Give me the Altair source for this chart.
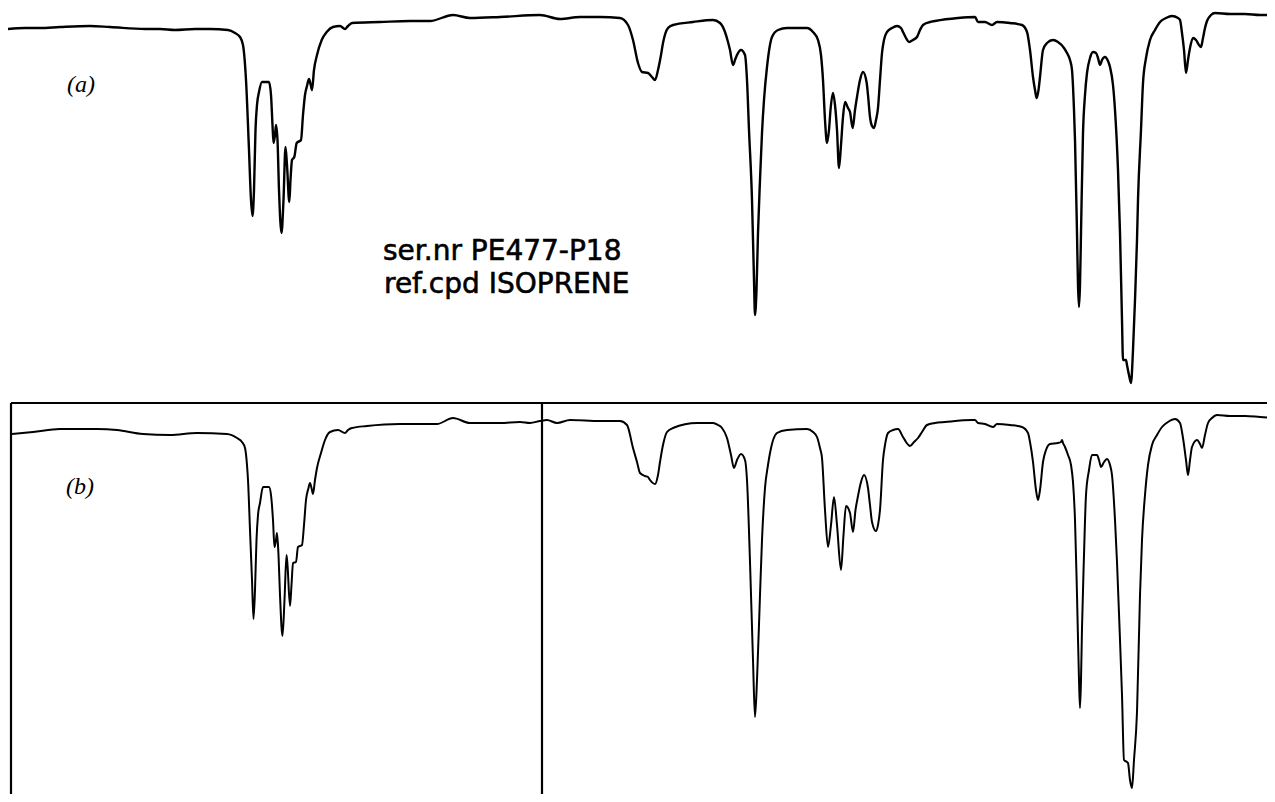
import altair as alt
import pandas as pd

# Spectrum (a): readings (position along chart, pen deflection in chart units, larger = deeper)
a_x = [8, 25, 40, 60, 90, 110, 145, 160, 175, 195, 210, 228, 235, 240, 243, 246, 249, 251, 252.5, 254,
       255.5, 257, 259, 262, 266, 269, 271, 272.5, 273.5, 275, 276, 277.5, 279, 281.5, 283.5, 285.5, 287, 289.3, 290.5, 292,
       294.3, 296.7, 301, 303, 305, 307, 309, 310.5, 312, 314, 317, 321.7, 326.7, 333, 340, 345, 348, 352, 380, 410,
       430, 453, 470, 500, 540, 560, 580, 600, 620, 628, 633, 638, 642, 648, 652, 655, 658, 661, 663, 668,
       673, 693, 713, 720, 725, 728, 730, 733, 735, 737, 741, 745, 747, 749, 752, 754, 755, 756.5, 758, 760,
       762, 764, 767, 772, 778, 787, 807, 813, 818, 821, 823, 825, 827, 829, 830.5, 833, 835, 837, 839, 841,
       843, 845, 848, 850, 852.7, 855, 857, 860, 863, 866.7, 868, 870, 872, 874, 876, 878, 880, 882, 884, 887,
       892, 897, 901, 903, 906, 909, 913, 917, 920, 923, 930, 935, 958, 975, 978, 985, 992, 997, 1010, 1022,
       1027, 1030, 1033, 1035, 1036.7, 1038.5, 1040, 1043, 1047, 1053, 1058, 1064, 1067, 1070, 1072, 1074, 1075, 1077, 1078, 1079,
       1080, 1081, 1083, 1085, 1087, 1090, 1093, 1096, 1098, 1100, 1102, 1105, 1108, 1110, 1113, 1115, 1118, 1120, 1122, 1123,
       1126, 1127, 1129, 1131, 1133, 1135, 1137, 1138, 1141, 1143, 1146, 1150, 1155, 1160, 1166, 1172, 1178, 1180, 1182, 1184,
       1186, 1188, 1190, 1193, 1196, 1199, 1201, 1203, 1205, 1207, 1211, 1215, 1230, 1245, 1260, 1275]
a_y = [29, 28, 28, 27, 26, 27, 29, 29, 30, 29, 29, 30, 33, 37, 45, 80, 150, 200, 216, 190,
       130, 105, 92, 82, 82, 82, 95, 125, 143, 135, 125, 140, 190, 233, 200, 147, 165, 202, 180, 160,
       157, 143, 140, 115, 95, 86, 79, 84, 90, 70, 55, 40, 32, 27, 26, 29, 26, 23, 22, 21,
       21, 15, 18, 17, 15, 19, 17, 17, 18, 25, 40, 63, 72, 73, 77, 80, 70, 55, 43, 28,
       25, 22, 20, 23, 32, 42, 50, 65, 60, 55, 50, 55, 80, 130, 200, 280, 315, 290, 233, 180,
       133, 100, 67, 37, 30, 28, 28, 32, 40, 55, 80, 120, 143, 130, 110, 93, 105, 130, 168, 145,
       117, 102, 108, 112, 128, 110, 97, 80, 72, 83, 95, 117, 126, 128, 120, 108, 80, 53, 40, 32,
       28, 26, 28, 32, 38, 42, 40, 37, 30, 25, 22, 21, 18, 17, 22, 22, 25, 22, 23, 25,
       32, 50, 77, 90, 98, 90, 77, 50, 43, 40, 42, 48, 53, 60, 70, 110, 140, 233, 285, 307,
       285, 233, 133, 95, 73, 58, 52, 53, 58, 65, 60, 57, 61, 67, 85, 110, 170, 233, 320, 360,
       360, 365, 375, 383, 350, 300, 240, 200, 130, 83, 58, 40, 30, 22, 18, 16, 18, 20, 33, 50,
       73, 60, 48, 38, 40, 45, 47, 38, 28, 21, 15, 13, 14, 14, 15, 15]

# Spectrum (b)
b_x = [12, 33, 60, 97, 117, 143, 170, 197, 227, 237, 242, 245, 247, 248, 250, 252, 253.5, 255, 256.5, 258,
       260, 263, 266, 269, 271, 273, 274.5, 276, 277, 278.5, 280, 282.5, 284.5, 286.5, 287.5, 290, 291.5, 293, 296, 298,
       302, 304, 306, 308.5, 310, 311.5, 313, 315, 317, 321, 325, 330, 338, 345, 348, 352, 367, 400, 420, 437,
       453, 470, 500, 520, 530, 540, 547, 557, 570, 600, 620, 627, 633, 637, 640, 645, 648, 650, 655, 658,
       660, 663, 667, 673, 697, 713, 718, 722, 727, 731, 734, 737, 741, 745, 747, 750, 753, 755, 757, 760,
       762, 765, 768, 770, 777, 787, 807, 813, 817, 820, 822, 825, 828, 831, 834, 837, 841, 843.5, 846, 850,
       853, 855.5, 858, 861, 864, 868, 870, 872, 876, 878, 880, 883, 885, 888, 893, 898, 903, 906, 910, 914,
       918, 922, 927, 935, 945, 972, 975, 978, 985, 993, 997, 1010, 1022, 1028, 1030, 1033, 1036, 1038, 1040, 1043,
       1046, 1050, 1058, 1061, 1062, 1063, 1065, 1068, 1071, 1073, 1075, 1077, 1079, 1080, 1081, 1082, 1084, 1086, 1089, 1092,
       1097, 1099, 1101, 1104, 1107, 1110, 1112, 1115, 1117, 1120, 1122, 1124, 1127, 1128, 1130, 1132, 1134, 1137, 1140, 1142,
       1145, 1148, 1152, 1157, 1162, 1168, 1175, 1180, 1183, 1186, 1188, 1190, 1192, 1197, 1200, 1202, 1205, 1208, 1212, 1217,
       1230, 1245, 1260, 1275]
b_y = [434, 432, 429, 429, 430, 434, 435, 433, 434, 438, 442, 448, 465, 480, 530, 580, 619, 590, 540, 515,
       503, 487, 487, 487, 495, 520, 547, 540, 533, 555, 595, 636, 600, 555, 565, 606, 585, 563, 562, 547,
       545, 525, 500, 488, 483, 488, 494, 480, 468, 453, 440, 432, 430, 433, 430, 428, 426, 424, 424, 424,
       418, 423, 423, 422, 423, 421, 420, 423, 420, 421, 421, 425, 448, 462, 473, 476, 477, 480, 484, 475,
       462, 445, 432, 428, 423, 423, 425, 428, 438, 455, 468, 460, 454, 460, 480, 562, 660, 717, 680, 595,
       540, 488, 465, 453, 433, 430, 429, 432, 437, 448, 458, 510, 547, 525, 497, 525, 570, 535, 506, 513,
       532, 510, 496, 482, 475, 488, 505, 522, 531, 525, 510, 460, 445, 433, 430, 429, 437, 442, 446, 442,
       438, 432, 425, 423, 422, 420, 420, 423, 424, 427, 424, 425, 427, 433, 442, 462, 490, 500, 490, 462,
       450, 444, 443, 442, 440, 443, 447, 455, 465, 482, 520, 595, 680, 708, 680, 628, 555, 495, 470, 455,
       455, 460, 467, 462, 459, 465, 475, 520, 562, 640, 695, 760, 762, 763, 780, 788, 760, 712, 595, 540,
       495, 465, 445, 435, 427, 422, 419, 423, 438, 460, 475, 460, 447, 440, 444, 448, 435, 423, 418, 415,
       416, 416, 417, 418]

# Frame of panel (b)
frame_h_x = [11]
frame_h_x2 = [1275]
frame_h_y = [403]
frame_v_x = [11, 542]
frame_v_y = [403, 403]
frame_v_y2 = [802, 802]

# Labels
panel_labels = ["(a)", "(b)"]
panel_label_x = [67, 66]
panel_label_y = [85, 487]
note_lines = ["ser.nr PE477-P18", "ref.cpd ISOPRENE"]
note_x = [383, 384]
note_y = [260, 293]

xs = alt.Scale(domain=[8, 1267], nice=False, zero=False)
ys = alt.Scale(domain=[8, 794], nice=False, zero=False, reverse=True)

df_a = pd.DataFrame({"x": a_x, "y": a_y, "o": range(len(a_x))})
df_b = pd.DataFrame({"x": b_x, "y": b_y, "o": range(len(b_x))})

line_a = alt.Chart(df_a).mark_line(color="black", strokeWidth=2.4, interpolate="monotone", clip=True).encode(
    x=alt.X("x:Q", scale=xs, axis=None),
    y=alt.Y("y:Q", scale=ys, axis=None),
    order="o:Q",
)
line_b = alt.Chart(df_b).mark_line(color="black", strokeWidth=2.0, interpolate="monotone", clip=True).encode(
    x=alt.X("x:Q", scale=xs, axis=None),
    y=alt.Y("y:Q", scale=ys, axis=None),
    order="o:Q",
)

df_fh = pd.DataFrame({"x": frame_h_x, "x2": frame_h_x2, "y": frame_h_y})
frame_h = alt.Chart(df_fh).mark_rule(color="black", strokeWidth=2.2, clip=True).encode(
    x=alt.X("x:Q", scale=xs, axis=None), x2="x2:Q",
    y=alt.Y("y:Q", scale=ys, axis=None),
)
df_fv = pd.DataFrame({"x": frame_v_x, "y": frame_v_y, "y2": frame_v_y2})
frame_v = alt.Chart(df_fv).mark_rule(color="black", strokeWidth=2.2, clip=True).encode(
    x=alt.X("x:Q", scale=xs, axis=None),
    y=alt.Y("y:Q", scale=ys, axis=None), y2="y2:Q",
)

df_pl = pd.DataFrame({"x": panel_label_x, "y": panel_label_y, "t": panel_labels})
plabels = alt.Chart(df_pl).mark_text(
    font="Liberation Serif", fontStyle="italic", fontSize=24, align="left", baseline="middle", color="black"
).encode(
    x=alt.X("x:Q", scale=xs, axis=None),
    y=alt.Y("y:Q", scale=ys, axis=None),
    text="t:N",
)

df_note = pd.DataFrame({"x": note_x, "y": note_y, "t": note_lines})
notes = alt.Chart(df_note).mark_text(
    font="DejaVu Sans", fontSize=28, align="left", baseline="alphabetic", color="black",
    stroke="black", strokeWidth=0.6
).encode(
    x=alt.X("x:Q", scale=xs, axis=None),
    y=alt.Y("y:Q", scale=ys, axis=None),
    text="t:N",
)

chart = alt.layer(frame_h, frame_v, line_a, line_b, plabels, notes).properties(
    width=1259, height=786, padding=0, background="white",
    autosize=alt.AutoSizeParams(type="none")
).configure_view(stroke=None)

chart.save("out.html", embed_options={"renderer": "svg", "actions": False})
